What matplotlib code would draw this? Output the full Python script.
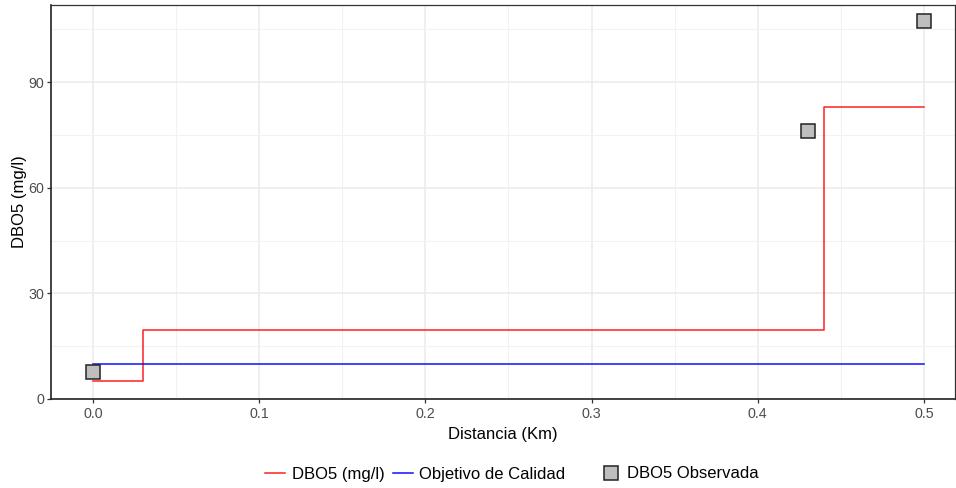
import matplotlib
matplotlib.use("Agg")
import matplotlib.pyplot as plt
from matplotlib.lines import Line2D

plt.rcParams['font.family'] = ['Liberation Sans', 'DejaVu Sans']

# Modelled BOD5 profile (step function along the river)
dist_model = [0.0, 0.03, 0.44, 0.5]
dbo_model = [5.1, 19.6, 82.9, 82.9]

# Quality objective
dist_obj = [0.0, 0.5]
dbo_obj = [10.0, 10.0]

# Observed BOD5
dist_obs = [0.0, 0.43, 0.5]
dbo_obs = [7.7, 76.1, 107.3]

x_ticks = [0.0, 0.1, 0.2, 0.3, 0.4, 0.5]
x_minor = [0.05, 0.15, 0.25, 0.35, 0.45]
y_ticks = [0, 30, 60, 90]
y_minor = [15, 45, 75, 105]

W, H = 956, 488
fig = plt.figure(figsize=(W / 100, H / 100), dpi=100)
ax = fig.add_axes([51/W, (H-399)/H, (955-51)/W, (399-5)/H])

RED, BLUE = '#FF2020', '#1010FF'
ax.step(dist_model, dbo_model, where='post', color=RED, lw=1.1, zorder=3)
ax.plot(dist_obj, dbo_obj, color=BLUE, lw=1.1, zorder=3)
ax.plot(dist_obs, dbo_obs, ls='none', marker='s', ms=9.5, mfc='#BEBEBE',
        mec='#222222', mew=1.1, zorder=4)

ax.set_xlim(-0.0253, 0.5187)
ax.set_ylim(0, 111.9)
ax.set_xticks(x_ticks)
ax.set_xticklabels([f"{v:.1f}" for v in x_ticks])
ax.set_xticks(x_minor, minor=True)
ax.set_yticks(y_ticks)
ax.set_yticks(y_minor, minor=True)

ax.grid(True, which='major', color='#EBEBEB', lw=1.1, zorder=0)
ax.grid(True, which='minor', color='#F2F2F2', lw=0.8, zorder=0)
ax.set_axisbelow(True)

for side in ['top', 'right']:
    ax.spines[side].set_color('#333333')
    ax.spines[side].set_linewidth(0.9)
for side in ['left', 'bottom']:
    ax.spines[side].set_color('#222222')
    ax.spines[side].set_linewidth(1.2)

ax.tick_params(which='major', length=3, width=0.9, color='#333333',
               labelcolor='#4D4D4D', labelsize=10.3, pad=2)
ax.tick_params(axis='x', which='major', pad=3)
ax.tick_params(which='minor', length=0)

ax.set_xlabel('Distancia (Km)', fontsize=12, color='black', labelpad=4)
ax.set_ylabel('DBO5 (mg/l)', fontsize=12, color='black')
ax.yaxis.set_label_coords((27 - 51) / 904, 0.5)

# Legend: line keys and point key as two groups
line_handles = [Line2D([], [], color=RED, lw=1.1),
                Line2D([], [], color=BLUE, lw=1.1)]
line_labels = ['DBO5 (mg/l)', 'Objetivo de Calidad']
pt_handles = [Line2D([], [], ls='none', marker='s', ms=9.5, mfc='#BEBEBE',
                     mec='#222222', mew=1.1)]
pt_labels = ['DBO5 Observada']

leg_y = 1 - 474 / H
common = dict(loc='center left', frameon=False, fontsize=12, handlelength=1.2,
              borderpad=0, borderaxespad=0)
fig.legend(line_handles, line_labels, bbox_to_anchor=(265 / W, leg_y),
           ncol=2, handletextpad=0.4, columnspacing=0.5, **common)
fig.legend(pt_handles, pt_labels, bbox_to_anchor=(601 / W, leg_y),
           handletextpad=0.36, **common)

fig.savefig('out.png', dpi=100)
